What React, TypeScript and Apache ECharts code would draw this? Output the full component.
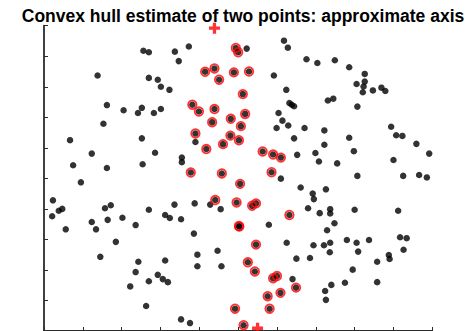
import React, { useEffect, useRef } from "react";
import * as echarts from "echarts";

const titleText = "Convex hull estimate of two points: approximate axis";

// all sample points that are not on the estimated axis (black asterisks)
const otherPoints: [number, number][] = [
  [2.56, 9.18], [2.70, 9.13], [1.38, 8.37], [2.70, 8.29], [2.93, 8.23], [3.01, 8.00],
  [1.62, 7.40], [2.05, 7.23], [2.52, 7.31], [2.42, 7.14], [2.83, 7.14], [3.01, 7.27],
  [1.53, 6.79], [0.67, 6.25], [2.52, 6.31], [1.23, 5.81], [2.86, 5.84], [0.75, 5.43],
  [1.62, 5.34], [2.54, 5.46], [0.95, 4.87], [0.23, 4.28], [0.38, 3.94], [0.47, 4.00],
  [0.21, 3.76], [0.56, 3.33], [1.23, 3.57], [1.34, 3.33], [1.57, 4.02], [1.72, 4.12],
  [1.64, 3.64], [2.02, 3.71], [2.36, 3.47], [2.70, 3.97], [1.85, 2.92], [1.45, 2.43],
  [2.43, 2.27], [2.36, 1.93], [2.93, 1.84], [2.70, 1.63], [2.22, 1.46], [2.63, 0.82],
  [3.37, 9.15], [3.73, 9.32], [3.47, 8.84], [5.22, 9.25], [6.18, 9.51], [6.28, 9.28],
  [6.76, 8.90], [5.92, 8.37], [3.23, 7.90], [6.24, 7.90], [6.32, 7.47], [6.38, 7.41],
  [6.44, 7.36], [6.04, 7.14], [6.14, 6.89], [6.29, 6.73], [5.99, 6.65], [6.71, 6.65],
  [3.90, 6.19], [6.44, 6.31], [3.55, 5.68], [3.55, 5.53], [6.52, 5.77], [6.10, 4.99],
  [6.61, 4.70], [3.36, 4.14], [3.88, 4.18], [4.28, 4.14], [4.55, 3.99], [3.12, 3.80],
  [3.24, 3.70], [3.53, 3.66], [6.80, 4.02], [5.79, 3.48], [3.86, 3.19], [6.25, 2.89],
  [4.47, 2.63], [3.95, 2.50], [3.12, 2.31], [6.50, 2.37], [3.95, 2.12], [4.57, 2.12],
  [3.06, 1.70], [3.19, 1.60], [6.40, 1.70], [3.53, 0.38], [3.76, 0.26], [7.04, 8.78],
  [7.49, 8.87], [7.86, 8.64], [8.26, 8.42], [8.05, 8.09], [8.26, 8.17], [8.23, 8.01],
  [8.21, 7.82], [8.47, 7.88], [8.69, 7.97], [8.79, 7.86], [7.31, 7.55], [7.45, 7.61],
  [8.07, 7.35], [7.22, 6.57], [7.86, 6.33], [7.22, 6.10], [6.99, 5.83], [7.08, 5.55],
  [7.55, 5.49], [7.98, 5.89], [8.94, 6.69], [9.07, 6.41], [9.23, 6.39], [9.59, 6.13],
  [9.92, 5.81], [9.00, 5.60], [8.07, 5.08], [9.25, 5.08], [9.66, 5.11], [9.86, 5.03],
  [7.26, 4.64], [6.92, 4.50], [6.95, 4.32], [7.10, 3.86], [7.37, 3.99], [7.37, 3.85],
  [8.00, 3.97], [9.12, 3.94], [7.48, 3.53], [7.29, 3.30], [6.94, 2.81], [7.21, 2.81],
  [7.37, 2.89], [7.36, 2.58], [7.80, 2.98], [8.05, 2.89], [8.09, 2.60], [8.37, 2.98],
  [9.17, 3.07], [9.34, 3.04], [9.26, 2.66], [6.85, 2.39], [8.58, 2.27], [8.88, 2.49],
  [8.90, 2.36], [7.95, 2.01], [7.40, 1.51], [7.75, 1.58], [8.58, 1.60], [7.24, 1.31],
  [7.26, 1.02],
];

// points selected near the approximate axis (circled in red)
const axisPoints: [number, number][] = [
  [4.94, 9.27], [5.00, 9.13], [4.15, 8.49], [4.39, 8.60], [4.89, 8.47], [5.28, 8.50],
  [4.51, 8.23], [5.12, 7.76], [3.82, 7.41], [3.99, 7.19], [4.39, 7.27], [5.18, 7.11],
  [4.81, 6.95], [4.33, 6.84], [5.07, 6.71], [3.90, 6.47], [4.80, 6.40], [5.02, 6.25],
  [4.61, 6.12], [4.18, 5.96], [5.63, 5.88], [5.90, 5.78], [6.10, 5.68], [3.78, 5.19],
  [4.58, 5.16], [5.86, 5.20], [5.05, 4.82], [4.41, 4.29], [4.96, 4.21], [5.36, 4.10],
  [5.46, 4.18], [6.32, 3.80], [5.02, 3.44], [5.03, 3.42], [5.46, 2.83], [5.25, 2.25],
  [5.43, 1.95], [5.90, 1.73], [6.00, 1.80], [6.49, 1.42], [5.76, 1.14], [6.09, 1.25],
  [4.92, 0.73], [5.81, 0.73], [5.14, 0.19],
];

// the two extreme points (red plus signs)
const extremePoints: [number, number][] = [
  [4.39, 9.92], [5.50, 0.09],
];

const xTicks = { min: 0, max: 10, interval: 1 };
const yTicks = { min: 0, max: 10, interval: 1 };

const plusPath =
  "path://M3.5,0 L6.5,0 L6.5,3.5 L10,3.5 L10,6.5 L6.5,6.5 L6.5,10 L3.5,10 L3.5,6.5 L0,6.5 L0,3.5 L3.5,3.5 Z";

export default function App() {
  const ref = useRef<HTMLDivElement>(null);

  useEffect(() => {
    if (!ref.current) return;
    const chart = echarts.init(ref.current, undefined, { renderer: "svg" });
    const axisCommon = {
      type: "value" as const,
      axisLine: { show: true, onZero: false, lineStyle: { color: "#2b2b2b", width: 1.8 } },
      axisTick: { show: true, inside: true, length: 4, lineStyle: { color: "#2b2b2b", width: 1 } },
      axisLabel: { show: false },
      splitLine: { show: false },
    };
    chart.setOption({
      animation: false,
      backgroundColor: "#fff",
      title: {
        text: titleText,
        left: 238,
        top: 2,
        textAlign: "center",
        textStyle: {
          fontFamily: "Liberation Sans, Arial, sans-serif",
          fontWeight: "bold",
          fontSize: 17.5,
          color: "#000",
        },
      },
      grid: { left: 44, top: 25.7, width: 388.3, height: 306.7, containLabel: false },
      xAxis: { ...axisCommon, ...xTicks },
      yAxis: { ...axisCommon, ...yTicks },
      series: [
        {
          type: "scatter",
          data: [...otherPoints, ...axisPoints],
          symbol: "circle",
          symbolSize: 6.5,
          itemStyle: { color: "#000" },
          silent: true,
          z: 2,
        },
        {
          type: "scatter",
          data: axisPoints,
          symbol: "circle",
          symbolSize: 8.5,
          itemStyle: { color: "rgba(0,0,0,0)", borderColor: "#ff0000", borderWidth: 1.8 },
          silent: true,
          z: 3,
        },
        {
          type: "scatter",
          data: extremePoints,
          symbol: plusPath,
          symbolSize: 11,
          itemStyle: { color: "#ff0000" },
          silent: true,
          z: 4,
        },
      ],
    });
    return () => chart.dispose();
  }, []);

  return (
    <div
      ref={ref}
      style={{ position: "absolute", left: 0, top: 0, width: 468, height: 331 }}
    />
  );
}
